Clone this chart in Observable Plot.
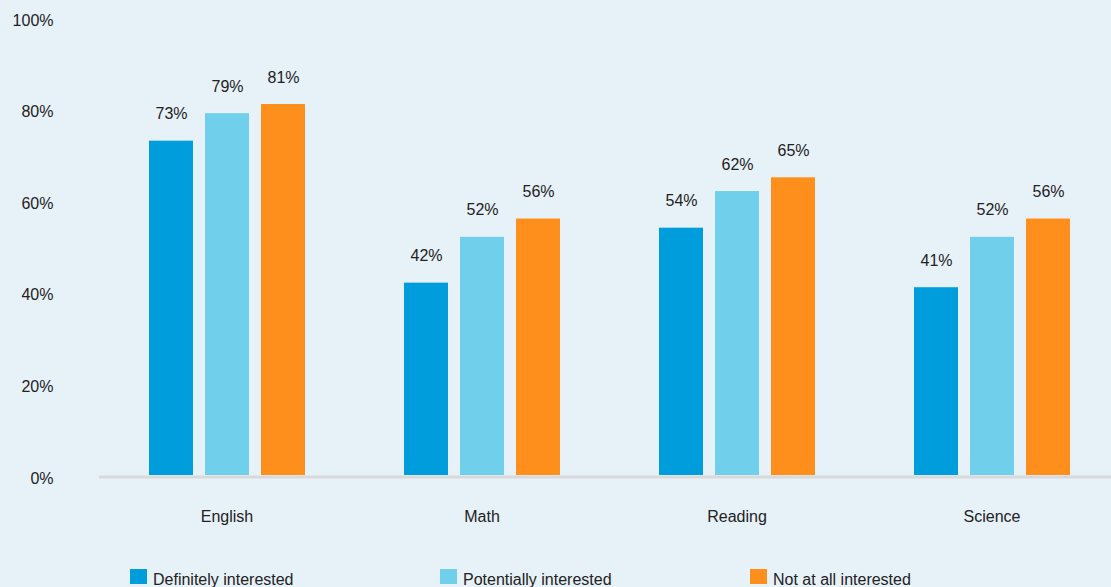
<!DOCTYPE html>
<html>
<head>
<meta charset="utf-8">
<script src="https://cdn.jsdelivr.net/npm/d3@7"></script>
<script src="https://cdn.jsdelivr.net/npm/@observablehq/plot@0.6"></script>
<style>
  html, body { margin: 0; padding: 0; background: #e7f1f8; overflow: hidden; }
  body { width: 1111px; height: 587px; font-family: "Liberation Sans", Arial, sans-serif; }
  #legend { position: relative; height: 47px; }
  .item { position: absolute; top: 29px; display: flex; align-items: flex-start; font-size: 16px; color: #222; }
  .sw { width: 17px; height: 15px; margin-right: 6px; }
  .item span { line-height: 20px; margin-top: 1px; }
</style>
</head>
<body>
<div id="chart"></div>
<div id="legend"></div>
<script>
const subjects = ["English", "Math", "Reading", "Science"];
const seriesNames = ["Definitely interested", "Potentially interested", "Not at all interested"];
const definitely = [73, 42, 54, 41];
const potentially = [79, 52, 62, 52];
const notAtAll = [81, 56, 65, 56];
const yTicks = [0, 20, 40, 60, 80, 100];
const colors = ["#009ddc", "#70cfea", "#ff8f1c"];

const seriesValues = [definitely, potentially, notAtAll];
const data = [];
subjects.forEach((s, i) => {
  seriesNames.forEach((n, j) => data.push({subject: s, series: n, value: seriesValues[j][i]}));
});

const chart = Plot.plot({
  width: 1111,
  height: 540,
  marginTop: 17,
  marginBottom: 65,
  marginLeft: 100,
  marginRight: 0,
  style: {background: "#e7f1f8", fontFamily: "'Liberation Sans', Arial, sans-serif", fontSize: "16px", color: "#222"},
  fx: {domain: subjects, range: [99, 1119], paddingInner: 0.384, paddingOuter: 0.192, label: null},
  x: {domain: seriesNames, paddingInner: 0.221, paddingOuter: 0, axis: null},
  y: {domain: [0, 100], label: null},
  color: {domain: seriesNames, range: colors},
  marks: [
    Plot.axisY({ticks: yTicks, tickFormat: d => d + "%", tickSize: 0, tickPadding: 95, dy: 3, fill: "#222", fontSize: 16}),
    Plot.axisFx({anchor: "bottom", tickSize: 0, tickPadding: 35, label: null, fill: "#222", fontSize: 16, lineAnchor: "top"}),
    Plot.barY(data, {fx: "subject", x: "series", y: "value", fill: "series"}),
    Plot.text(data, {fx: "subject", x: "series", y: "value", text: d => d.value + "%", dy: -22, lineAnchor: "bottom", fill: "#222", fontSize: 16}),
    Plot.frame({anchor: "bottom", facet: "super", stroke: "#d9d9d9", strokeWidth: 3, dy: 1.5, insetLeft: -48, insetRight: -60})
  ]
});
document.getElementById("chart").appendChild(chart);

const legend = document.getElementById("legend");
const legendLeft = [130, 440, 750];
seriesNames.forEach((n, i) => {
  const item = document.createElement("div");
  item.className = "item";
  item.style.left = legendLeft[i] + "px";
  const sw = document.createElement("div");
  sw.className = "sw";
  sw.style.background = colors[i];
  const label = document.createElement("span");
  label.textContent = n;
  item.appendChild(sw);
  item.appendChild(label);
  legend.appendChild(item);
});
</script>
</body>
</html>
